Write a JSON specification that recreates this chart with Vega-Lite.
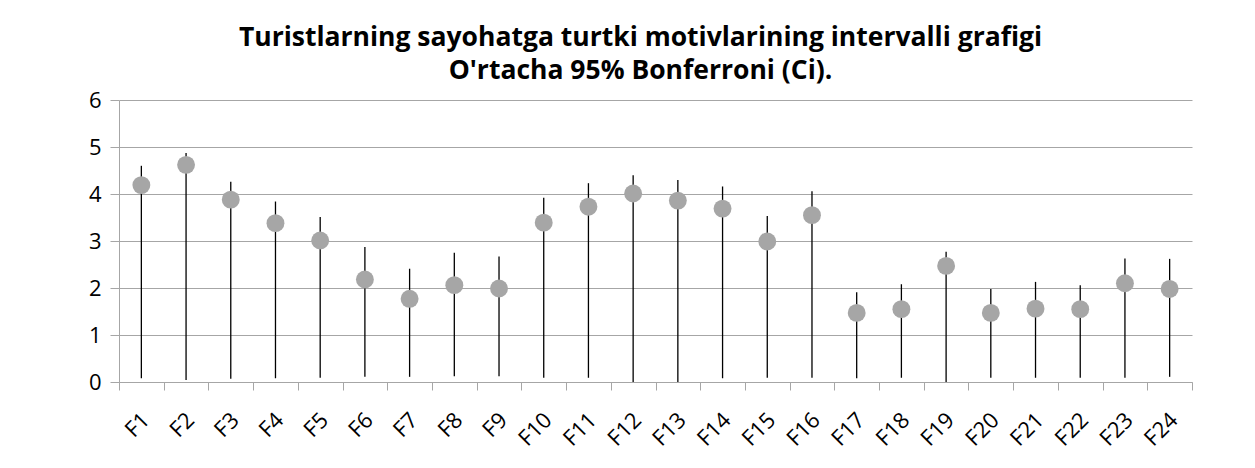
{
  "$schema": "https://vega.github.io/schema/vega-lite/v6.json",
  "width": 1073,
  "height": 282,
  "autosize": {"type": "none"},
  "padding": {"left": 119, "top": 100, "right": 63, "bottom": 86},
  "background": "white",
  "config": {"view": {"stroke": null}},
  "title": {
    "text": ["Turistlarning sayohatga turtki motivlarining intervalli grafigi", "O'rtacha 95% Bonferroni (Ci)."],
    "font": "Open Sans",
    "fontSize": 26.5,
    "fontWeight": "bold",
    "color": "#000000",
    "lineHeight": 33,
    "anchor": "middle",
    "frame": "group",
    "dx": -15,
    "offset": 5
  },
  "data": {
    "values": [
      {"f": "F1", "mean": 4.19, "lo": 0.08, "hi": 4.60},
      {"f": "F2", "mean": 4.62, "lo": 0.04, "hi": 4.87},
      {"f": "F3", "mean": 3.88, "lo": 0.07, "hi": 4.26},
      {"f": "F4", "mean": 3.38, "lo": 0.08, "hi": 3.84},
      {"f": "F5", "mean": 3.01, "lo": 0.09, "hi": 3.51},
      {"f": "F6", "mean": 2.18, "lo": 0.11, "hi": 2.87},
      {"f": "F7", "mean": 1.77, "lo": 0.11, "hi": 2.41},
      {"f": "F8", "mean": 2.06, "lo": 0.12, "hi": 2.75},
      {"f": "F9", "mean": 1.99, "lo": 0.12, "hi": 2.67},
      {"f": "F10", "mean": 3.39, "lo": 0.09, "hi": 3.92},
      {"f": "F11", "mean": 3.73, "lo": 0.09, "hi": 4.23},
      {"f": "F12", "mean": 4.01, "lo": 0.0, "hi": 4.40},
      {"f": "F13", "mean": 3.86, "lo": 0.0, "hi": 4.30},
      {"f": "F14", "mean": 3.69, "lo": 0.08, "hi": 4.16},
      {"f": "F15", "mean": 2.99, "lo": 0.09, "hi": 3.53},
      {"f": "F16", "mean": 3.55, "lo": 0.09, "hi": 4.06},
      {"f": "F17", "mean": 1.47, "lo": 0.08, "hi": 1.91},
      {"f": "F18", "mean": 1.55, "lo": 0.09, "hi": 2.08},
      {"f": "F19", "mean": 2.47, "lo": 0.0, "hi": 2.77},
      {"f": "F20", "mean": 1.47, "lo": 0.09, "hi": 1.98},
      {"f": "F21", "mean": 1.56, "lo": 0.09, "hi": 2.13},
      {"f": "F22", "mean": 1.55, "lo": 0.09, "hi": 2.06},
      {"f": "F23", "mean": 2.10, "lo": 0.09, "hi": 2.63},
      {"f": "F24", "mean": 1.98, "lo": 0.11, "hi": 2.62}
    ]
  },
  "encoding": {
    "x": {
      "field": "f",
      "type": "nominal",
      "sort": null,
      "scale": {"paddingInner": 0, "paddingOuter": 0},
      "axis": {
        "title": null,
        "labelAngle": -45,
        "labelFont": "Open Sans",
        "labelFontSize": 22,
        "labelColor": "#000000",
        "labelPadding": 19,
        "labelOffset": -3,
        "domainColor": "#A6A6A6",
        "tickColor": "#A6A6A6",
        "tickSize": 8,
        "tickBand": "extent",
        "grid": false
      }
    }
  },
  "layer": [
    {
      "mark": {"type": "rule", "color": "#000000", "strokeWidth": 1.3},
      "encoding": {
        "y": {
          "field": "lo",
          "type": "quantitative",
          "scale": {"domain": [0, 6], "nice": false},
          "axis": {
            "title": null,
            "values": [0, 1, 2, 3, 4, 5, 6],
            "labelFont": "Open Sans",
            "labelFontSize": 22,
            "labelColor": "#000000",
            "labelPadding": 9,
            "domainColor": "#A6A6A6",
            "tickColor": "#A6A6A6",
            "tickSize": 9,
            "gridColor": "#A6A6A6",
            "gridWidth": 1,
            "gridOpacity": 1
          }
        },
        "y2": {"field": "hi"}
      }
    },
    {
      "mark": {"type": "point", "filled": true, "color": "#A6A6A6", "opacity": 1, "size": 320},
      "encoding": {
        "y": {"field": "mean", "type": "quantitative"}
      }
    }
  ]
}
